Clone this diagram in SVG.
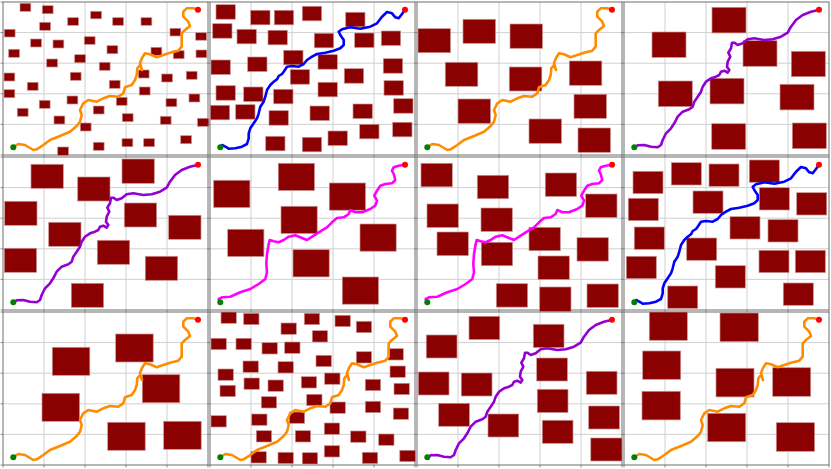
<svg xmlns="http://www.w3.org/2000/svg" xmlns:xlink="http://www.w3.org/1999/xlink" width="831" height="469" viewBox="0 0 831 469">
<style>
.bg{fill:#ffffff}
.grid{stroke:#d0d0d0;stroke-width:1;fill:none}
.frame{stroke:#6e6e6e;stroke-width:1;fill:none}
.tick{stroke:#6e6e6e;stroke-width:0.8}
.ob rect{fill:#8b0000;stroke:#c99090;stroke-width:0.7}
.path{fill:none;stroke-width:2.6;stroke-linejoin:round;stroke-linecap:round}
.orange{stroke:#ff8c00}
.blue{stroke:#0000ff}
.purple{stroke:#9400d3}
.magenta{stroke:#ff00ff}
.start{fill:#008000}
.goal{fill:#ff0000}
</style>
<defs>
<g id="gridbase">
<rect class="bg" x="0" y="0" width="205" height="153"/>
<path class="grid" d="M41 0V153M82 0V153M123 0V153M164 0V153M0 30.6H205M0 61.2H205M0 91.8H205M0 122.4H205"/>
</g>
<g id="framebase">
<rect class="frame" x="0" y="0" width="205" height="153"/>
<path class="tick" d="M-2.5 0H0M-2.5 30.6H0M-2.5 61.2H0M-2.5 91.8H0M-2.5 122.4H0M-2.5 153H0M0 153V155.5M41 153V155.5M82 153V155.5M123 153V155.5M164 153V155.5M205 153V155.5"/>
</g>
<g id="ends">
<circle class="start" cx="10.3" cy="145.2" r="3"/>
<circle class="goal" cx="195" cy="7.8" r="3"/>
</g>
<polyline id="pOrange" points="10.3,145 15.3,142 22,143 30.3,148 33.7,147.3 40.3,143 47,138 57,134 67,129.7 73.7,124 77,119.7 78.7,113 77,108 80.3,101.3 85.3,98 93.7,99.7 100.3,96.3 107,94 115.3,94.7 120.3,91.3 122,85.3 128.7,83 132,78 133.7,73 134.3,66.3 137,63 139,68 137,61 139,56 142,51.3 147,52.3 153.7,55.3 160.3,53 167,50.7 175.3,48.7 178.7,44.7 178.7,38 178.7,31.3 182,28 187,24 185.3,19.7 180.3,14.7 180.3,9.7 183.7,6.3 190.3,6.3 195,7.7"/>
<polyline id="pBlue" points="10.3,145 12,143 15.3,144.7 18.7,146.7 25.3,146.3 32,144.7 37,142 38.7,136.3 38.7,131.3 40.3,126.3 43.7,121.3 47,116.3 48.7,111.3 50.3,104.7 53.7,99.7 55.3,94.7 57,88 60.3,83 63.7,79.7 67,77.3 68.7,74 72,72 73.7,69.7 77,64.7 82,64 88.7,64.7 93.7,62 97,58 102,54.7 107,52 115.3,50.7 123.7,48.7 130.3,46.3 133.7,43 133.7,38 130.3,33 128.7,29.7 132,27.3 140.3,25.3 150.3,26.7 160.3,24.7 167,21.3 172,14.7 177,10 182,11.3 185.3,15.3 188.7,16.3 192,12 195,7.7"/>
<polyline id="pPurple" points="9.7,145.7 13.7,143.3 20.3,143 27,144.7 33.7,145.3 37,143 38.7,138 42,131.3 47,126.3 50.3,121.3 53.7,114.7 58.7,109.7 65.3,107.3 68.7,104.7 70.3,99.7 73.7,94.7 77,89.7 78.7,84.7 82,79.7 87,76.3 92,74.7 95.3,73 97,69.7 100.3,68.7 103.7,70.7 105.3,68 103,64.7 103.7,59.7 106.3,54.7 104.3,50.7 107,46.3 108,40.7 110.3,40.7 113.7,43 118.7,41.3 123.7,37.3 130.3,36.3 140.3,38 148.7,37.3 157,34.7 163.7,30.7 167,24.7 172,18 178.7,13 187,9.7 194.3,8"/>
<polyline id="pMagenta" points="9.7,145.3 8.7,142 12,140.3 20.3,139.7 30.3,135.3 40.3,132 48.7,127 55.3,122 57,115.3 56.3,107 57,97 58.7,87 59.7,83 63.7,84.3 68.7,85.3 73.7,83 78.7,79.7 85.3,78.3 92,81 97,83 103.7,78.7 110.3,74.3 117,70.3 122,65.3 127,61 133.7,60.3 138.7,57 140.3,53 145.3,55.3 152,55.3 160.3,52 165.3,48.7 167,43.7 164.3,38.7 167,33.7 170.3,28.7 175.3,27 182,26.3 185.3,23 183.7,17 182,13.7 183.7,10.3 188.7,8.7 194.3,7.7"/>
</defs>

<g id="panel-1" transform="translate(3,2)">
<use href="#gridbase"/>
<use href="#framebase"/>
<g class="ob">
<rect x="17" y="1.3" width="10.8" height="8"/><rect x="39.3" y="3.7" width="10.8" height="8"/><rect x="87.7" y="9.3" width="10.8" height="7.5"/><rect x="64.7" y="15.7" width="10.8" height="7.6"/><rect x="36.7" y="20.3" width="10.8" height="8"/><rect x="109.7" y="15.7" width="10.8" height="7.6"/><rect x="138" y="15.7" width="10.8" height="7.6"/><rect x="1.3" y="27.3" width="10.8" height="7.7"/><rect x="167" y="26.3" width="10.8" height="7.7"/><rect x="192.7" y="30.7" width="10.8" height="7.5"/><rect x="27.7" y="37" width="10.8" height="8"/><rect x="50" y="38" width="10.8" height="8"/><rect x="81.3" y="34.7" width="10.8" height="7.6"/><rect x="5.7" y="47.3" width="10.8" height="8"/><rect x="104" y="43.7" width="10.8" height="8"/><rect x="148" y="45.3" width="10.8" height="8"/><rect x="170.3" y="48.7" width="10.8" height="8"/><rect x="193" y="48" width="10.8" height="7.7"/><rect x="43.7" y="57" width="10.8" height="8"/><rect x="71.7" y="52.7" width="10.8" height="8"/><rect x="96.3" y="60.3" width="10.8" height="8"/><rect x="1" y="71" width="10.8" height="8"/><rect x="67.3" y="70.3" width="10.8" height="8"/><rect x="135.3" y="68" width="10.8" height="8"/><rect x="158.7" y="72" width="10.8" height="8"/><rect x="183.3" y="69.3" width="10.8" height="8"/><rect x="24.3" y="80.3" width="10.8" height="8"/><rect x="106.3" y="78.3" width="10.8" height="8"/><rect x="1" y="87.7" width="10.8" height="8"/><rect x="136.3" y="85" width="10.8" height="8"/><rect x="64" y="94" width="10.8" height="8"/><rect x="186" y="92" width="10.8" height="8"/><rect x="36.3" y="98.3" width="10.8" height="8"/><rect x="113.3" y="95.3" width="10.8" height="8"/><rect x="90.3" y="104" width="10.8" height="8"/><rect x="163" y="96.7" width="10.8" height="8"/><rect x="14.3" y="106.3" width="10.8" height="8"/><rect x="119.3" y="111.7" width="10.8" height="8"/><rect x="157.3" y="114.3" width="10.8" height="8"/><rect x="51" y="114" width="10.8" height="8"/><rect x="77.3" y="121" width="10.8" height="8"/><rect x="194.5" y="116.3" width="11.4" height="8"/><rect x="177.7" y="133.7" width="10.8" height="8"/><rect x="90.3" y="140.3" width="10.8" height="8"/><rect x="119" y="136.7" width="10.8" height="8"/><rect x="140.7" y="136.7" width="10.8" height="8"/><rect x="54.7" y="145" width="10.8" height="8.4"/>
</g>
<use href="#pOrange" class="path orange"/>
<use href="#ends"/>
</g>

<g id="panel-2" transform="translate(210,2)">
<use href="#gridbase"/>
<use href="#framebase"/>
<g class="ob">
<rect x="6" y="2.7" width="19.3" height="14.5"/><rect x="40.7" y="8.3" width="19.3" height="14.5"/><rect x="64.3" y="8.3" width="19.3" height="14.5"/><rect x="92.3" y="4.3" width="19.3" height="14.5"/><rect x="135.7" y="10.3" width="19.3" height="14.5"/><rect x="2.7" y="21.7" width="19.3" height="14.5"/><rect x="27" y="27.3" width="19.3" height="14.5"/><rect x="58" y="28.3" width="19.3" height="14.5"/><rect x="104.3" y="31.3" width="19.3" height="14.5"/><rect x="144.7" y="31" width="19.3" height="14.5"/><rect x="171.3" y="29" width="19.3" height="14.5"/><rect x="73.7" y="48.3" width="19.3" height="14.5"/><rect x="108" y="52.7" width="19.3" height="14.5"/><rect x="1" y="58" width="19.3" height="14.5"/><rect x="37.7" y="55" width="19.3" height="14.5"/><rect x="173.3" y="56.7" width="19.3" height="14.5"/><rect x="80.3" y="67.7" width="19.3" height="14.5"/><rect x="134.3" y="66.7" width="19.3" height="14.5"/><rect x="6" y="83.7" width="19.3" height="14.5"/><rect x="33.7" y="85" width="19.3" height="14.5"/><rect x="63.7" y="87.3" width="19.3" height="14.5"/><rect x="108" y="80.3" width="19.3" height="14.5"/><rect x="174" y="78.7" width="19.3" height="14.5"/><rect x="0.3" y="103.3" width="19.3" height="14.5"/><rect x="25.7" y="102.7" width="19.3" height="14.5"/><rect x="59" y="108.7" width="19.3" height="14.5"/><rect x="100" y="104" width="19.3" height="14.5"/><rect x="143" y="102" width="19.3" height="14.5"/><rect x="183.7" y="96.7" width="19.3" height="14.5"/><rect x="149.7" y="122.3" width="19.3" height="14.5"/><rect x="182.7" y="120.3" width="19.3" height="14.5"/><rect x="118" y="129" width="19.3" height="14.5"/><rect x="55.7" y="134.3" width="19.3" height="14.5"/><rect x="92.3" y="135.3" width="19.3" height="14.5"/>
</g>
<use href="#pBlue" class="path blue"/>
<use href="#ends"/>
</g>

<g id="panel-3" transform="translate(417,2)">
<use href="#gridbase"/>
<use href="#framebase"/>
<g class="ob">
<rect x="1" y="26.7" width="32.5" height="24"/><rect x="46" y="17.3" width="32.5" height="24"/><rect x="93" y="22" width="32.5" height="24.3"/><rect x="28.3" y="60.3" width="32.5" height="24"/><rect x="92.3" y="65" width="32.5" height="24"/><rect x="152.3" y="59" width="32.5" height="24.3"/><rect x="41" y="97" width="32.5" height="24.3"/><rect x="157" y="92.3" width="32.5" height="24"/><rect x="112" y="117" width="32.5" height="24.3"/><rect x="161" y="126" width="32.5" height="24.3"/>
</g>
<use href="#pOrange" class="path orange"/>
<use href="#ends"/>
</g>

<g id="panel-4" transform="translate(624,2)">
<use href="#gridbase"/>
<use href="#framebase"/>
<g class="ob">
<rect x="88" y="5.3" width="34" height="25.6"/><rect x="28" y="30" width="34" height="25.4"/><rect x="119" y="38.7" width="34" height="25.6"/><rect x="167.3" y="49.3" width="34" height="25.4"/><rect x="34.3" y="79" width="34" height="25.6"/><rect x="86" y="76.3" width="34" height="25.6"/><rect x="156" y="82.3" width="34" height="25.6"/><rect x="87.7" y="121.7" width="34" height="25.6"/><rect x="168.3" y="121" width="34" height="25.6"/>
</g>
<use href="#pPurple" class="path purple"/>
<use href="#ends"/>
</g>

<g id="panel-5" transform="translate(3,157)">
<use href="#gridbase"/>
<use href="#framebase"/>
<g class="ob">
<rect x="28" y="7.3" width="32.3" height="24"/><rect x="74.7" y="20" width="32.3" height="24"/><rect x="119" y="2" width="32.3" height="24.3"/><rect x="1.7" y="44.3" width="32.3" height="24"/><rect x="121.3" y="46" width="32.3" height="24"/><rect x="165.7" y="58.3" width="32.3" height="24"/><rect x="45.7" y="65.3" width="32.3" height="24"/><rect x="94.3" y="83.3" width="32.3" height="24"/><rect x="1.3" y="91.3" width="32.3" height="24"/><rect x="142.3" y="99.3" width="32.3" height="24"/><rect x="68.3" y="126.3" width="32.3" height="24"/>
</g>
<use href="#pPurple" class="path purple"/>
<use href="#ends"/>
</g>

<g id="panel-6" transform="translate(210,157)">
<use href="#gridbase"/>
<use href="#framebase"/>
<g class="ob">
<rect x="3.7" y="23.3" width="36.2" height="27.2"/><rect x="68.3" y="6.3" width="36.2" height="27.2"/><rect x="119.3" y="26" width="36.2" height="27.2"/><rect x="71" y="49.3" width="36.2" height="27.2"/><rect x="17.7" y="72.3" width="36.2" height="27.2"/><rect x="150" y="67" width="36.2" height="27.2"/><rect x="83" y="92.7" width="36.2" height="27.2"/><rect x="132.3" y="120" width="36.2" height="27.2"/>
</g>
<use href="#pMagenta" class="path magenta"/>
<use href="#ends"/>
</g>

<g id="panel-7" transform="translate(417,157)">
<use href="#gridbase"/>
<use href="#framebase"/>
<g class="ob">
<rect x="4" y="6.3" width="31.3" height="23.5"/><rect x="60.3" y="18.3" width="31.3" height="23.4"/><rect x="128.3" y="16" width="31.3" height="23.4"/><rect x="10" y="47" width="31.3" height="23.4"/><rect x="64" y="51" width="31.3" height="23.4"/><rect x="168.7" y="37" width="31.3" height="23.4"/><rect x="20" y="75" width="31.3" height="23.6"/><rect x="112" y="70.3" width="31.3" height="23.4"/><rect x="64.3" y="85.3" width="31.3" height="23.4"/><rect x="160" y="80.7" width="31.3" height="23.4"/><rect x="121" y="99" width="31.3" height="23.4"/><rect x="79.3" y="126.7" width="31.3" height="23.4"/><rect x="122.7" y="130" width="31.3" height="24.4"/><rect x="170" y="127" width="31.3" height="23.4"/>
</g>
<use href="#pMagenta" class="path magenta"/>
<use href="#ends"/>
</g>

<g id="panel-8" transform="translate(624,157)">
<use href="#gridbase"/>
<use href="#framebase"/>
<g class="ob">
<rect x="9" y="14.3" width="30" height="22.3"/><rect x="47.3" y="5.7" width="30" height="22.3"/><rect x="85" y="7" width="30" height="22.3"/><rect x="125.3" y="3" width="30" height="22.3"/><rect x="4.3" y="41.3" width="30" height="22.3"/><rect x="69" y="34" width="30" height="22.3"/><rect x="135.3" y="30.7" width="30" height="22.3"/><rect x="172.7" y="35.7" width="30" height="22.3"/><rect x="10.3" y="70" width="30" height="22.3"/><rect x="106" y="59.7" width="30" height="22.3"/><rect x="144" y="62.7" width="30" height="22.3"/><rect x="62.7" y="81" width="30" height="22.3"/><rect x="2.3" y="99.3" width="30" height="22.3"/><rect x="135" y="93.3" width="30" height="22.3"/><rect x="171.3" y="93.3" width="30" height="22.3"/><rect x="91.3" y="108.7" width="30" height="22.3"/><rect x="43.7" y="129" width="30" height="22.3"/><rect x="159.3" y="126" width="30" height="22.3"/>
</g>
<use href="#pBlue" class="path blue"/>
<use href="#ends"/>
</g>

<g id="panel-9" transform="translate(3,312)">
<use href="#gridbase"/>
<use href="#framebase"/>
<g class="ob">
<rect x="49.3" y="35.3" width="37.5" height="28"/><rect x="112.7" y="22" width="37.5" height="28"/><rect x="139.3" y="62.7" width="37.5" height="28"/><rect x="39" y="81.3" width="37.5" height="28"/><rect x="104.7" y="110.3" width="37.5" height="28"/><rect x="160.7" y="109.3" width="37.5" height="28"/>
</g>
<use href="#pOrange" class="path orange"/>
<use href="#ends"/>
</g>

<g id="panel-10" transform="translate(210,312)">
<use href="#gridbase"/>
<use href="#framebase"/>
<g class="ob">
<rect x="11" y="0" width="15.3" height="11.3"/><rect x="33.7" y="1.3" width="15.3" height="11.3"/><rect x="94.3" y="1.3" width="15.3" height="11.3"/><rect x="125" y="3.3" width="15.3" height="11.3"/><rect x="146.3" y="9.3" width="15.3" height="11.3"/><rect x="71" y="11" width="15.3" height="11.3"/><rect x="102.3" y="18.7" width="15.3" height="11.3"/><rect x="1" y="26.3" width="15.3" height="11.3"/><rect x="26" y="26.3" width="15.3" height="11.3"/><rect x="52" y="30.7" width="15.3" height="11.3"/><rect x="74.7" y="30" width="15.3" height="11.3"/><rect x="106" y="43.3" width="15.3" height="11.3"/><rect x="146.3" y="39.7" width="15.3" height="11.3"/><rect x="178" y="36.7" width="15.3" height="11.3"/><rect x="33" y="49" width="15.3" height="11.3"/><rect x="68" y="49.7" width="15.3" height="11.3"/><rect x="8" y="57" width="15.3" height="11.3"/><rect x="180" y="54" width="15.3" height="11.3"/><rect x="114.7" y="61" width="15.3" height="11.3"/><rect x="34" y="66" width="15.3" height="11.3"/><rect x="58" y="68" width="15.3" height="11.3"/><rect x="91.3" y="64.7" width="15.3" height="11.3"/><rect x="155.3" y="67.3" width="15.3" height="11.3"/><rect x="10" y="73.3" width="15.3" height="11.3"/><rect x="184" y="71.3" width="15.3" height="11.3"/><rect x="96.7" y="82.3" width="15.3" height="11.3"/><rect x="51.3" y="84.7" width="15.3" height="11.3"/><rect x="120" y="90" width="15.3" height="11.3"/><rect x="155.3" y="89.3" width="15.3" height="11.3"/><rect x="183.3" y="96" width="15.3" height="11.3"/><rect x="1" y="103.7" width="15.3" height="11.3"/><rect x="41.7" y="102" width="15.3" height="11.3"/><rect x="79.3" y="100" width="15.3" height="11.3"/><rect x="114.3" y="111" width="15.3" height="11.3"/><rect x="46.3" y="118.7" width="15.3" height="11.3"/><rect x="85.3" y="118.7" width="15.3" height="11.3"/><rect x="140.7" y="119" width="15.3" height="11.3"/><rect x="168.7" y="122" width="15.3" height="11.3"/><rect x="114.3" y="133.7" width="15.3" height="11.3"/><rect x="41" y="139.7" width="15.3" height="11.3"/><rect x="68" y="140.3" width="15.3" height="11.3"/><rect x="92.3" y="140.7" width="15.3" height="11.3"/><rect x="152.3" y="140.3" width="15.3" height="11.3"/><rect x="189.8" y="138.3" width="15.7" height="11.3"/>
</g>
<use href="#pOrange" class="path orange"/>
<use href="#ends"/>
</g>

<g id="panel-11" transform="translate(417,312)">
<use href="#gridbase"/>
<use href="#framebase"/>
<g class="ob">
<rect x="52" y="4.3" width="30.7" height="23.2"/><rect x="116.3" y="12.3" width="30.7" height="23.2"/><rect x="9.3" y="23" width="30.7" height="23"/><rect x="119.7" y="46" width="30.7" height="23"/><rect x="1.3" y="60" width="30.7" height="23"/><rect x="44.3" y="61" width="30.7" height="23"/><rect x="169.3" y="59.3" width="30.7" height="23"/><rect x="120.3" y="77.3" width="30.7" height="23.2"/><rect x="21.7" y="91.3" width="30.7" height="23"/><rect x="171.7" y="94" width="30.7" height="23"/><rect x="71" y="102" width="30.7" height="23"/><rect x="125.3" y="108.3" width="30.7" height="23"/><rect x="173.8" y="126" width="31.2" height="23"/>
</g>
<use href="#pPurple" class="path purple"/>
<use href="#ends"/>
</g>

<g id="panel-12" transform="translate(624,312)">
<use href="#gridbase"/>
<use href="#framebase"/>
<g class="ob">
<rect x="25.3" y="0" width="38" height="28.3"/><rect x="96" y="1" width="38.3" height="28.6"/><rect x="18.7" y="39" width="38" height="28.3"/><rect x="92" y="56.3" width="38" height="28.6"/><rect x="148.7" y="55.7" width="38" height="28.6"/><rect x="18" y="79.3" width="38.3" height="28.6"/><rect x="83.7" y="101.3" width="38" height="28.4"/><rect x="152.3" y="110.7" width="38.3" height="28.6"/>
</g>
<use href="#pOrange" class="path orange"/>
<use href="#ends"/>
</g>
</svg>
